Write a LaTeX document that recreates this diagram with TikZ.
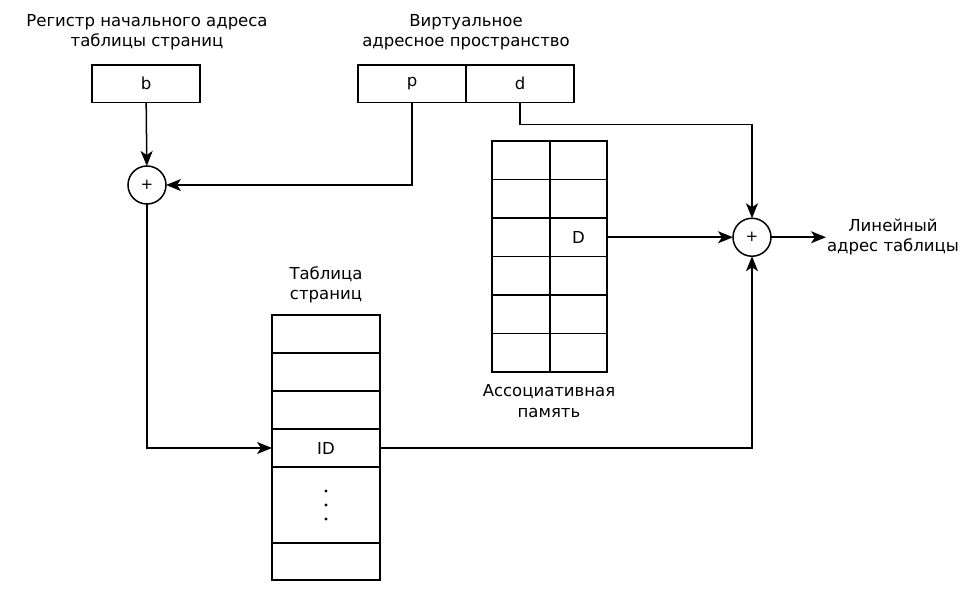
\documentclass[tikz,border=0pt]{standalone}
\usepackage{fontspec}
\setmainfont{DejaVu Sans}
\usetikzlibrary{arrows.meta}
\begin{document}
\begin{tikzpicture}[x=1pt,y=-1pt,
  font=\fontsize{16.5}{20.5}\selectfont,
  line width=1.5pt,
  cell/.style={draw, rectangle, inner sep=0pt, outer sep=0pt, anchor=north west, minimum height=37.5pt},
  sum/.style={draw, circle, inner sep=0pt, outer sep=0pt, minimum size=38pt, font=\fontsize{15}{17}\selectfont},
  lbl/.style={align=center, inner sep=0pt},
  arr/.style={-{Stealth[length=15pt,width=12pt,inset=4pt]}}]
\useasboundingbox (0,0) rectangle (978,601);

% labels
\node[lbl] (t1) at (147,32) {Регистр начального адреса\\таблицы страниц};
\node[lbl] (t2) at (466,32) {Виртуальное\\адресное пространство};
\node[lbl] (t3) at (326,285) {Таблица\\страниц};
\node[lbl] (t4) at (549,401) {Ассоциативная\\память};
\node[lbl] (t5) at (893,237) {Линейный\\адрес таблицы};

% registers
\node[cell, minimum width=108pt] (b) at (92,65) {b};
\node[cell, minimum width=108pt] (p) at (358,65) {p};
\node[cell, minimum width=108pt] (d) at (466,65) {d};

% adders
\node[sum] (s1) at (147,185) {+};
\node[sum] (s2) at (752,237.25) {+};

% associative memory
\foreach \r in {1,...,6}{
  \node[cell, minimum width=58pt, minimum height=38.5pt] (a\r1) at (492,{141+(\r-1)*38.5}) {};
  \node[cell, minimum width=57pt, minimum height=38.5pt] (a\r2) at (550,{141+(\r-1)*38.5}) {};
}
\node at (a32.center) {D};

% page table
\node[cell, minimum width=108pt, minimum height=38pt] (pt1) at (272,315) {};
\node[cell, minimum width=108pt, minimum height=38pt] (pt2) at (272,353) {};
\node[cell, minimum width=108pt, minimum height=38pt] (pt3) at (272,391) {};
\node[cell, minimum width=108pt, minimum height=38pt] (tid) at (272,429) {ID};
\node[cell, minimum width=108pt, minimum height=76pt] (tdots) at (272,467) {};
\node[cell, minimum width=108pt, minimum height=37pt] (tlast) at (272,543) {};
\foreach \yy in {491,505,519} \fill (326,\yy) circle (1.6pt);

% connectors
\coordinate (lend) at (826,237.25);
\draw[arr] (b) -- (s1);
\draw[arr] (p.south) |- (s1);
\draw[arr] (d.south) -- ++(0,22) -| (s2);
\draw[arr] (a32.east) -- (s2);
\draw[arr] (s2) -- (lend);
\draw[arr] (s1) |- (tid);
\draw[arr] (tid) -| (s2);
\end{tikzpicture}
\end{document}
